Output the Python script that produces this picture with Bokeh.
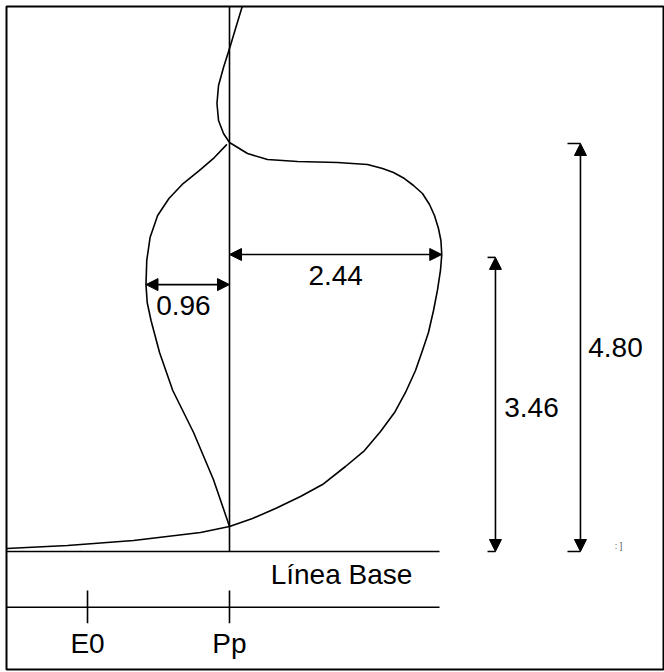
from bokeh.plotting import figure
from bokeh.models import Range1d, Arrow, NormalHead
from bokeh.core.properties import value
from bokeh.embed import file_html
from bokeh.resources import INLINE

# Peak profile: baseline tail, right lobe and the upper wiggle (one trace)
trace_x = [-2.56, -1.862, -1.103, -0.333, 0.0, 0.264, 0.529, 0.816, 1.069, 1.333,
           1.552, 1.736, 1.897, 2.023, 2.138, 2.218, 2.287, 2.345, 2.39, 2.425,
           2.44, 2.43, 2.402, 2.356, 2.299, 2.218, 2.115, 2.011, 1.885, 1.759,
           1.586, 1.241, 0.782, 0.437, 0.207, 0.0, -0.069, -0.126, -0.144, -0.126,
           -0.069, 0.011, 0.08, 0.149]
trace_y = [0.035, 0.071, 0.129, 0.224, 0.294, 0.388, 0.506, 0.647, 0.788, 1.0,
           1.188, 1.412, 1.635, 1.871, 2.129, 2.365, 2.576, 2.835, 3.071, 3.306,
           3.494, 3.659, 3.80, 3.953, 4.082, 4.212, 4.306, 4.388, 4.459, 4.506,
           4.553, 4.576, 4.588, 4.612, 4.682, 4.812, 4.918, 5.071, 5.271, 5.482,
           5.694, 5.953, 6.188, 6.42]

# Left lobe, from the upper junction down to the lower junction
lobe_x = [-0.03, -0.174, -0.348, -0.533, -0.696, -0.826, -0.913, -0.951, -0.96,
          -0.946, -0.902, -0.804, -0.652, -0.413, -0.185, -0.043, 0.0]
lobe_y = [4.79, 4.635, 4.482, 4.329, 4.153, 3.953, 3.694, 3.424, 3.14,
          2.929, 2.718, 2.341, 1.894, 1.40, 0.847, 0.424, 0.294]

# Dimensions
width_right = 2.44
width_left = 0.96
height_inner = 3.46
height_total = 4.80
width_right_y = 3.494
width_left_y = 3.14

# Potential axis
tick_names = ["E0", "Pp"]
tick_pos = [-1.632, 0.0]

x_left, x_right = -2.5632, 5.0
y_bottom, y_top = -1.3882, 6.4118
line_end = 2.414
axis_y = -0.655
dim_x_inner = 3.057
dim_x_total = 4.034
bracket_inner = 0.091
bracket_total = 0.149

FONT = value("Liberation Sans")

p = figure(width=664, height=672, output_backend="svg", toolbar_location=None,
           x_range=Range1d(x_left, x_right), y_range=Range1d(y_bottom, y_top),
           x_axis_location=None, y_axis_location=None,
           min_border_left=6, min_border_top=6, min_border_right=0, min_border_bottom=3)
p.grid.visible = False
p.outline_line_color = "black"
p.outline_line_width = 2
p.background_fill_color = "white"
p.border_fill_color = "white"

LW = 1.6

# Curve
p.line(trace_x, trace_y, line_color="black", line_width=LW, line_join="round")
p.line(lobe_x, lobe_y, line_color="black", line_width=LW, line_join="round")

# Vertical line through Pp, baseline and the potential axis
p.segment(x0=[0.0], y0=[0.0], x1=[0.0], y1=[y_top], line_color="black", line_width=LW)
p.segment(x0=[x_left], y0=[0.0], x1=[line_end], y1=[0.0], line_color="black", line_width=LW)
p.segment(x0=[x_left], y0=[axis_y], x1=[line_end], y1=[axis_y], line_color="black", line_width=LW)
p.segment(x0=tick_pos, y0=[axis_y + 0.196] * 2, x1=tick_pos, y1=[axis_y - 0.19] * 2,
          line_color="black", line_width=LW)
p.text(x=tick_pos, y=[-1.082] * 2, text=tick_names, text_font=FONT, text_font_size="28px",
       text_align="center", text_baseline="middle", text_color="black")
p.text(x=[1.287], y=[-0.27], text=["Línea Base"], text_font=FONT, text_font_size="28px",
       text_align="center", text_baseline="middle", text_color="black")


def head():
    return NormalHead(size=12, fill_color="black", line_color="black", line_width=1)


# Horizontal width arrows
p.add_layout(Arrow(x_start=0.0, y_start=width_right_y, x_end=width_right, y_end=width_right_y,
                   start=head(), end=head(), line_color="black", line_width=LW))
p.add_layout(Arrow(x_start=-width_left, y_start=width_left_y, x_end=0.0, y_end=width_left_y,
                   start=head(), end=head(), line_color="black", line_width=LW))
p.text(x=[width_right / 2], y=[3.247], text=[f"{width_right:.2f}"], text_font=FONT,
       text_font_size="28px", text_align="center", text_baseline="middle", text_color="black")
p.text(x=[-0.53], y=[2.894], text=[f"{width_left:.2f}"], text_font=FONT,
       text_font_size="28px", text_align="center", text_baseline="middle", text_color="black")

# Vertical height arrows with end brackets
p.add_layout(Arrow(x_start=dim_x_inner, y_start=0.0, x_end=dim_x_inner, y_end=height_inner,
                   start=head(), end=head(), line_color="black", line_width=LW))
p.add_layout(Arrow(x_start=dim_x_total, y_start=0.0, x_end=dim_x_total, y_end=height_total,
                   start=head(), end=head(), line_color="black", line_width=LW))
p.segment(x0=[dim_x_inner - bracket_inner] * 2, y0=[0.0, height_inner],
          x1=[dim_x_inner] * 2, y1=[0.0, height_inner], line_color="black", line_width=LW)
p.segment(x0=[dim_x_total - bracket_total] * 2, y0=[0.0, height_total],
          x1=[dim_x_total] * 2, y1=[0.0, height_total], line_color="black", line_width=LW)
p.text(x=[3.471], y=[1.694], text=[f"{height_inner:.2f}"], text_font=FONT,
       text_font_size="28px", text_align="center", text_baseline="middle", text_color="black")
p.text(x=[4.437], y=[2.40], text=[f"{height_total:.2f}"], text_font=FONT,
       text_font_size="28px", text_align="center", text_baseline="middle", text_color="black")
p.text(x=[4.47], y=[0.07], text=[": ]"], text_font=FONT,
       text_font_size="9px", text_align="center", text_baseline="middle", text_color="#555555")

open("out.html", "w").write(file_html(p, INLINE))
